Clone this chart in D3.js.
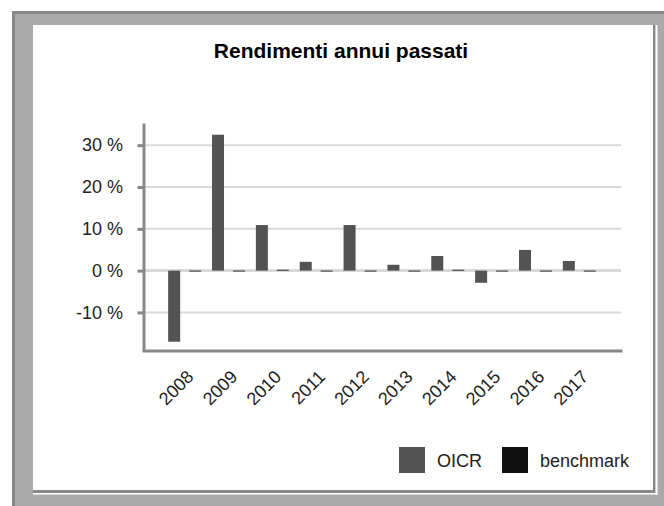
<!DOCTYPE html>
<html>
<head>
<meta charset="utf-8">
<script src="https://cdn.jsdelivr.net/npm/d3@7"></script>
<style>
  body { margin: 0; background: #fff; }
  text { font-family: "Liberation Sans", Arial, sans-serif; }
</style>
</head>
<body>
<div id="chart-area"></div>
<script>
// data
var years = ['2008', '2009', '2010', '2011', '2012', '2013', '2014', '2015', '2016', '2017'];
var oicr = [-17.0, 32.5, 10.9, 2.1, 10.9, 1.4, 3.5, -2.9, 4.95, 2.3];
var benchmark = [-0.2, -0.2, 0.2, -0.2, -0.2, -0.2, 0.2, -0.2, -0.2, -0.2];
var seriesNames = ['OICR', 'benchmark'];
var seriesColors = ['#535353', '#111111'];
var yTicks = [-10, 0, 10, 20, 30];

var W = 664, H = 506;

var svg = d3.select('#chart-area').append('svg')
	.attr('width', W)
	.attr('height', H);

// frame
svg.append('rect').attr('x', 12).attr('y', 11).attr('width', W - 12).attr('height', H - 11).attr('fill', '#aaaaaa');
svg.append('rect').attr('x', 12).attr('y', 11).attr('width', W - 12).attr('height', 3).attr('fill', '#888888');
svg.append('rect').attr('x', 12).attr('y', 11).attr('width', 3).attr('height', H - 11).attr('fill', '#888888');
svg.append('rect').attr('x', 33).attr('y', 25).attr('width', 622.5).attr('height', 468).attr('fill', '#888888');
svg.append('rect').attr('x', 655.5).attr('y', 25).attr('width', 2).attr('height', 470).attr('fill', '#ffffff');
svg.append('rect').attr('x', 33).attr('y', 493).attr('width', 624.5).attr('height', 1.5).attr('fill', '#ffffff');
svg.append('rect').attr('x', 33).attr('y', 25).attr('width', 620).attr('height', 465).attr('fill', '#ffffff');

svg.append('text')
	.attr('x', 341)
	.attr('y', 58)
	.attr('text-anchor', 'middle')
	.attr('font-size', '21px')
	.attr('font-weight', 'bold')
	.attr('fill', '#000')
	.text('Rendimenti annui passati');

// scales
var x0 = d3.scaleBand().domain(years).range([142, 622]).paddingInner(0).paddingOuter(0.473);
var x1 = d3.scaleBand().domain(seriesNames).range([0, x0.bandwidth()]).paddingInner(0.4286).paddingOuter(0.258);
var y = d3.scaleLinear().domain([-19.1, 35.3]).range([350.5, 123]);

var g = svg.append('g');

// gridlines
g.selectAll('.grid').data(yTicks).enter()
	.append('line')
	.attr('class', 'grid')
	.attr('x1', 145).attr('x2', 621)
	.attr('y1', d => y(d)).attr('y2', d => y(d))
	.attr('stroke', '#d9d9d9')
	.attr('stroke-width', d => d === 0 ? 3 : 2);

// bars
var groups = g.selectAll('.year').data(years).enter()
	.append('g')
	.attr('class', 'year')
	.attr('transform', d => `translate(${x0(d)}, 0)`);

groups.selectAll('rect')
	.data((d, i) => [{ name: 'OICR', v: oicr[i] }, { name: 'benchmark', v: benchmark[i] }])
	.enter()
	.append('rect')
	.attr('x', d => x1(d.name))
	.attr('width', x1.bandwidth())
	.attr('y', d => y(Math.max(0, d.v)))
	.attr('height', d => Math.abs(y(d.v) - y(0)))
	.attr('fill', d => seriesColors[seriesNames.indexOf(d.name)]);

// y axis
var yAxis = g.append('g')
	.attr('transform', 'translate(143.5, 0)')
	.call(d3.axisLeft(y).tickValues(yTicks).tickSize(6).tickSizeOuter(0).tickPadding(14.5).tickFormat(d => `${d} %`));
yAxis.select('.domain').attr('stroke', '#888888').attr('stroke-width', 3);
yAxis.selectAll('.tick line').attr('stroke', '#888888').attr('stroke-width', 3);
yAxis.selectAll('.tick text').attr('font-size', '18px').attr('fill', '#222').attr('font-family', '"Liberation Sans", Arial, sans-serif');

// x axis
var xAxis = g.append('g')
	.attr('transform', 'translate(0, 350.5)')
	.call(d3.axisBottom(x0).tickSize(0).tickSizeOuter(0));
xAxis.select('.domain').attr('stroke', '#888888').attr('stroke-width', 3);
xAxis.selectAll('.tick text')
	.attr('y', 0).attr('dy', 0)
	.attr('text-anchor', 'end')
	.attr('transform', 'translate(10, 27.5) rotate(-45)')
	.attr('font-size', '18px')
	.attr('fill', '#222')
	.attr('font-family', '"Liberation Sans", Arial, sans-serif');

// legend
var legendX = [399, 502];
var legend = svg.selectAll('.legend').data(seriesNames).enter()
	.append('g')
	.attr('class', 'legend')
	.attr('transform', (d, i) => `translate(${legendX[i]}, 447)`);
legend.append('rect')
	.attr('width', 26).attr('height', 26)
	.attr('fill', (d, i) => seriesColors[i]);
legend.append('text')
	.attr('x', 38).attr('y', 20)
	.attr('font-size', '18px')
	.attr('fill', '#222')
	.text(d => d);
</script>
</body>
</html>
